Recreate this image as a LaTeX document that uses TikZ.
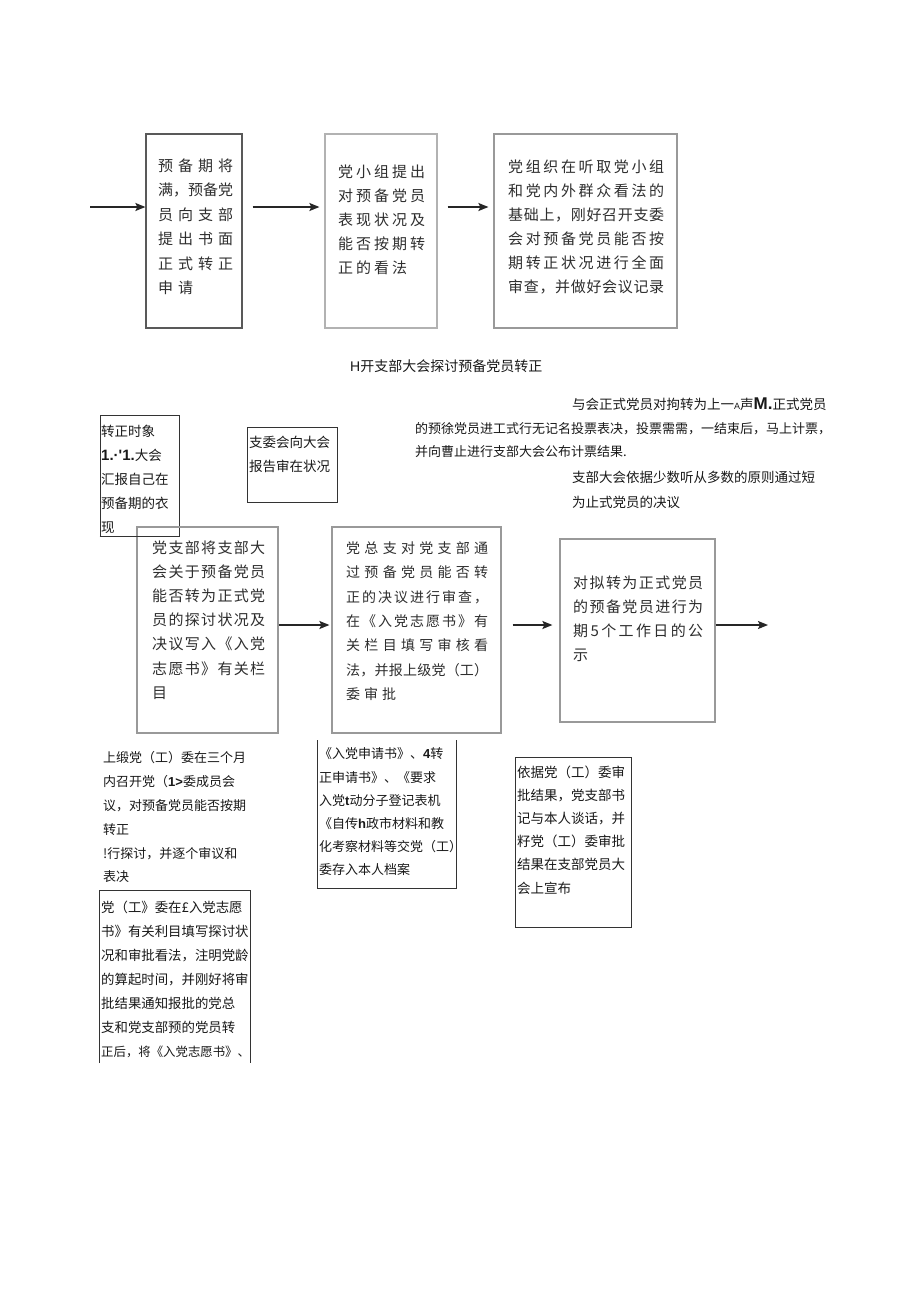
\documentclass[tikz,border=0pt]{standalone}
\usepackage{fontspec}
\setmainfont{Noto Sans CJK SC}
\newfontfamily\lat{Liberation Sans}
\usetikzlibrary{arrows.meta,fit}
\setlength{\parindent}{0pt}
% justified line: glyphs spread over the full line width
\newcommand\jl[1]{\leavevmode\hbox to\linewidth{\jlfirst#1\relax}}
\def\jlfirst#1{#1\jlrest}
\def\jlrest#1{\ifx#1\relax\else\hfill#1\expandafter\jlrest\fi}
% last line: glyphs with a fixed gap
\newcommand\jg[2][4pt]{\leavevmode\def\jgk{#1}\jgfirst#2\relax}
\def\jgfirst#1{#1\jgrest}
\def\jgrest#1{\ifx#1\relax\else\kern\jgk#1\expandafter\jgrest\fi}
\begin{document}
\begin{tikzpicture}[x=1pt,y=-1pt,
  box/.style={draw=#1, line width=1.2pt, inner sep=0pt, rectangle},
  box/.default=black!40,
  abox/.style={draw=black!80, line width=0.7pt, inner sep=0pt, rectangle},
  aline/.style={draw=black!80, line width=0.7pt},
  txt/.style={anchor=base west, inner sep=0pt, align=left, text=black!82},
  ptxt/.style={anchor=base west, inner sep=0pt, align=left, text width=520pt, text=black!90},
  arr/.style={line width=1.5pt, draw=black!85, -{Stealth[length=10pt,width=8pt,inset=2pt]}}]
\useasboundingbox[fill=white] (0,0) rectangle (920,1301);

% ---------- top row ----------
\node[box=black!65, fit={(146,134) (242,328)}] (b1) {};
\node[box=black!30, fit={(325,134) (437,328)}] (b2) {};
\node[box=black!40, fit={(494,134) (677,328)}] (b3) {};

\node[txt, text width=75pt, font=\fontsize{15}{24.4}\selectfont] (b1t) at (158,171.5)
  {\jl{预备期将}\\ \jl{满，预备党}\\ \jl{员向支部}\\ \jl{提出书面}\\ \jl{正式转正}\\ \jg[5pt]{申请}};
\node[txt, text width=87pt, font=\fontsize{15}{24}\selectfont] (b2t) at (338,177.5)
  {\jl{党小组提出}\\ \jl{对预备党员}\\ \jl{表现状况及}\\ \jl{能否按期转}\\ \jg[3pt]{正的看法}};
\node[txt, text width=156pt, font=\fontsize{15}{24}\selectfont] (b3t) at (508,172.5)
  {\jl{党组织在听取党小组}\\ \jl{和党内外群众看法的}\\ \jl{基础上，刚好召开支委}\\ \jl{会对预备党员能否按}\\ \jl{期转正状况进行全面}\\ \jl{审查，并做好会议记录}};

\coordinate (in) at (90,207);
\draw[arr] (in) -- (b1.west |- in);
\draw[arr, shorten <=10pt, shorten >=5pt] (b1.east |- in) -- (b2.west |- in);
\draw[arr, shorten <=10pt, shorten >=5pt] (b2.east |- in) -- (b3.west |- in);

% ---------- middle texts ----------
\node[ptxt, font=\fontsize{14}{16}\selectfont] (title) at (350,371)
  {{\lat H}开支部大会探讨预备党员转正};
\node[ptxt, font=\fontsize{13.5}{16}\selectfont] (p1) at (572,409)
  {与会正式党员对拘转为上一{\lat\fontsize{9}{9}\selectfont A}声{\lat\bfseries\fontsize{17}{17}\selectfont M.}正式党员};
\node[ptxt, font=\fontsize{13}{22.5}\selectfont] (p2) at (415,433.8)
  {的预徐党员进工式行无记名投票表决，投票需需，一结束后，马上计票，\\并向曹止进行支部大会公布计票结果.};
\node[ptxt, font=\fontsize{13.5}{25}\selectfont] (p3) at (572,482)
  {支部大会依据少数听从多数的原则通过短\\为止式党员的决议};

\node[abox, fit={(100,415) (179,536)}] (a1) {};
\node[ptxt, font=\fontsize{13.5}{24.2}\selectfont] (a1t) at (101,436)
  {转正时象\\{\lat\bfseries\fontsize{15}{15}\selectfont 1.·'1.}大会\\汇报自己在\\预备期的衣\\现};
\node[abox, fit={(247,427) (337,502)}] (a2) {};
\node[ptxt, font=\fontsize{13.5}{24}\selectfont] (a2t) at (249,447)
  {支委会向大会\\报告审在状况};

% ---------- middle row ----------
\node[box, fit={(137,527) (278,733)}] (ma) {};
\node[box, fit={(332,527) (501,733)}] (mb) {};
\node[box, fit={(560,539) (715,722)}] (mc) {};
\draw[abox] (a1.south west) -- (a1.south east);

\node[txt, text width=113pt, font=\fontsize{15}{24.1}\selectfont] (mat) at (152,553.5)
  {\jl{党支部将支部大}\\ \jl{会关于预备党员}\\ \jl{能否转为正式党}\\ \jl{员的探讨状况及}\\ \jl{决议写入《入党}\\ \jl{志愿书》有关栏}\\ 目};
\node[txt, text width=142pt, font=\fontsize{14}{24.4}\selectfont] (mbt) at (346,553.2)
  {\jl{党总支对党支部通}\\ \jl{过预备党员能否转}\\ \jl{正的决议进行审查，}\\ \jl{在《入党志愿书》有}\\ \jl{关栏目填写审核看}\\ \jl{法，并报上级党（工）}\\ \jg[4pt]{委审批}};
\node[txt, text width=130pt, font=\fontsize{15}{24}\selectfont] (mct) at (573,588.5)
  {\jl{对拟转为正式党员}\\ \jl{的预备党员进行为}\\ \jl{期5个工作日的公}\\ 示};

\coordinate (r2) at (0,625);
\coordinate (out) at (768,625);
\draw[arr, shorten >=2pt] (ma.east |- r2) -- (mb.west |- r2);
\draw[arr, shorten <=11pt, shorten >=7pt] (mb.east |- r2) -- (mc.west |- r2);
\draw[arr] (mc.east |- r2) -- (out);

% ---------- bottom ----------
\node[ptxt, font=\fontsize{13}{23.8}\selectfont] (t2) at (103,762.8)
  {上缎党（工）委在三个月\\内召开党（{\lat\bfseries 1>}委成员会\\议，对预备党员能否按期\\转正\\!行探讨，并逐个审议和\\表决};

\draw[aline] (317,740) -- (317,888) -- (456,888) -- (456,740);
\node[ptxt, font=\fontsize{13}{23.2}\selectfont] (dt) at (319,758.8)
  {《入党申请书》、{\lat\bfseries 4}转\\正申请书》、《要求\\入党{\lat\bfseries t}动分子登记表机\\《自传{\lat\bfseries h}政市材料和教\\化考察材料等交党（工）\\委存入本人档案};

\node[abox, fit={(515,757) (631,927)}] (e) {};
\node[ptxt, font=\fontsize{13.5}{23.2}\selectfont] (et) at (517,777)
  {依据党（工）委审\\批结果，党支部书\\记与本人谈话，并\\籽党（工）委审批\\结果在支部党员大\\会上宣布};

\draw[aline] (99,1063) -- (99,890) -- (250,890) -- (250,1063);
\node[ptxt, font=\fontsize{13.4}{24}\selectfont] (ft) at (101,912)
  {党（工》委在£入党志愿\\书》有关利目填写探讨状\\况和审批看法，注明党龄\\的算起时间，并刚好将审\\批结果通知报批的党总\\支和党支部预的党员转\\{\fontsize{12.4}{24}\selectfont 正后，将《入党志愿书》、}};
\end{tikzpicture}
\end{document}
